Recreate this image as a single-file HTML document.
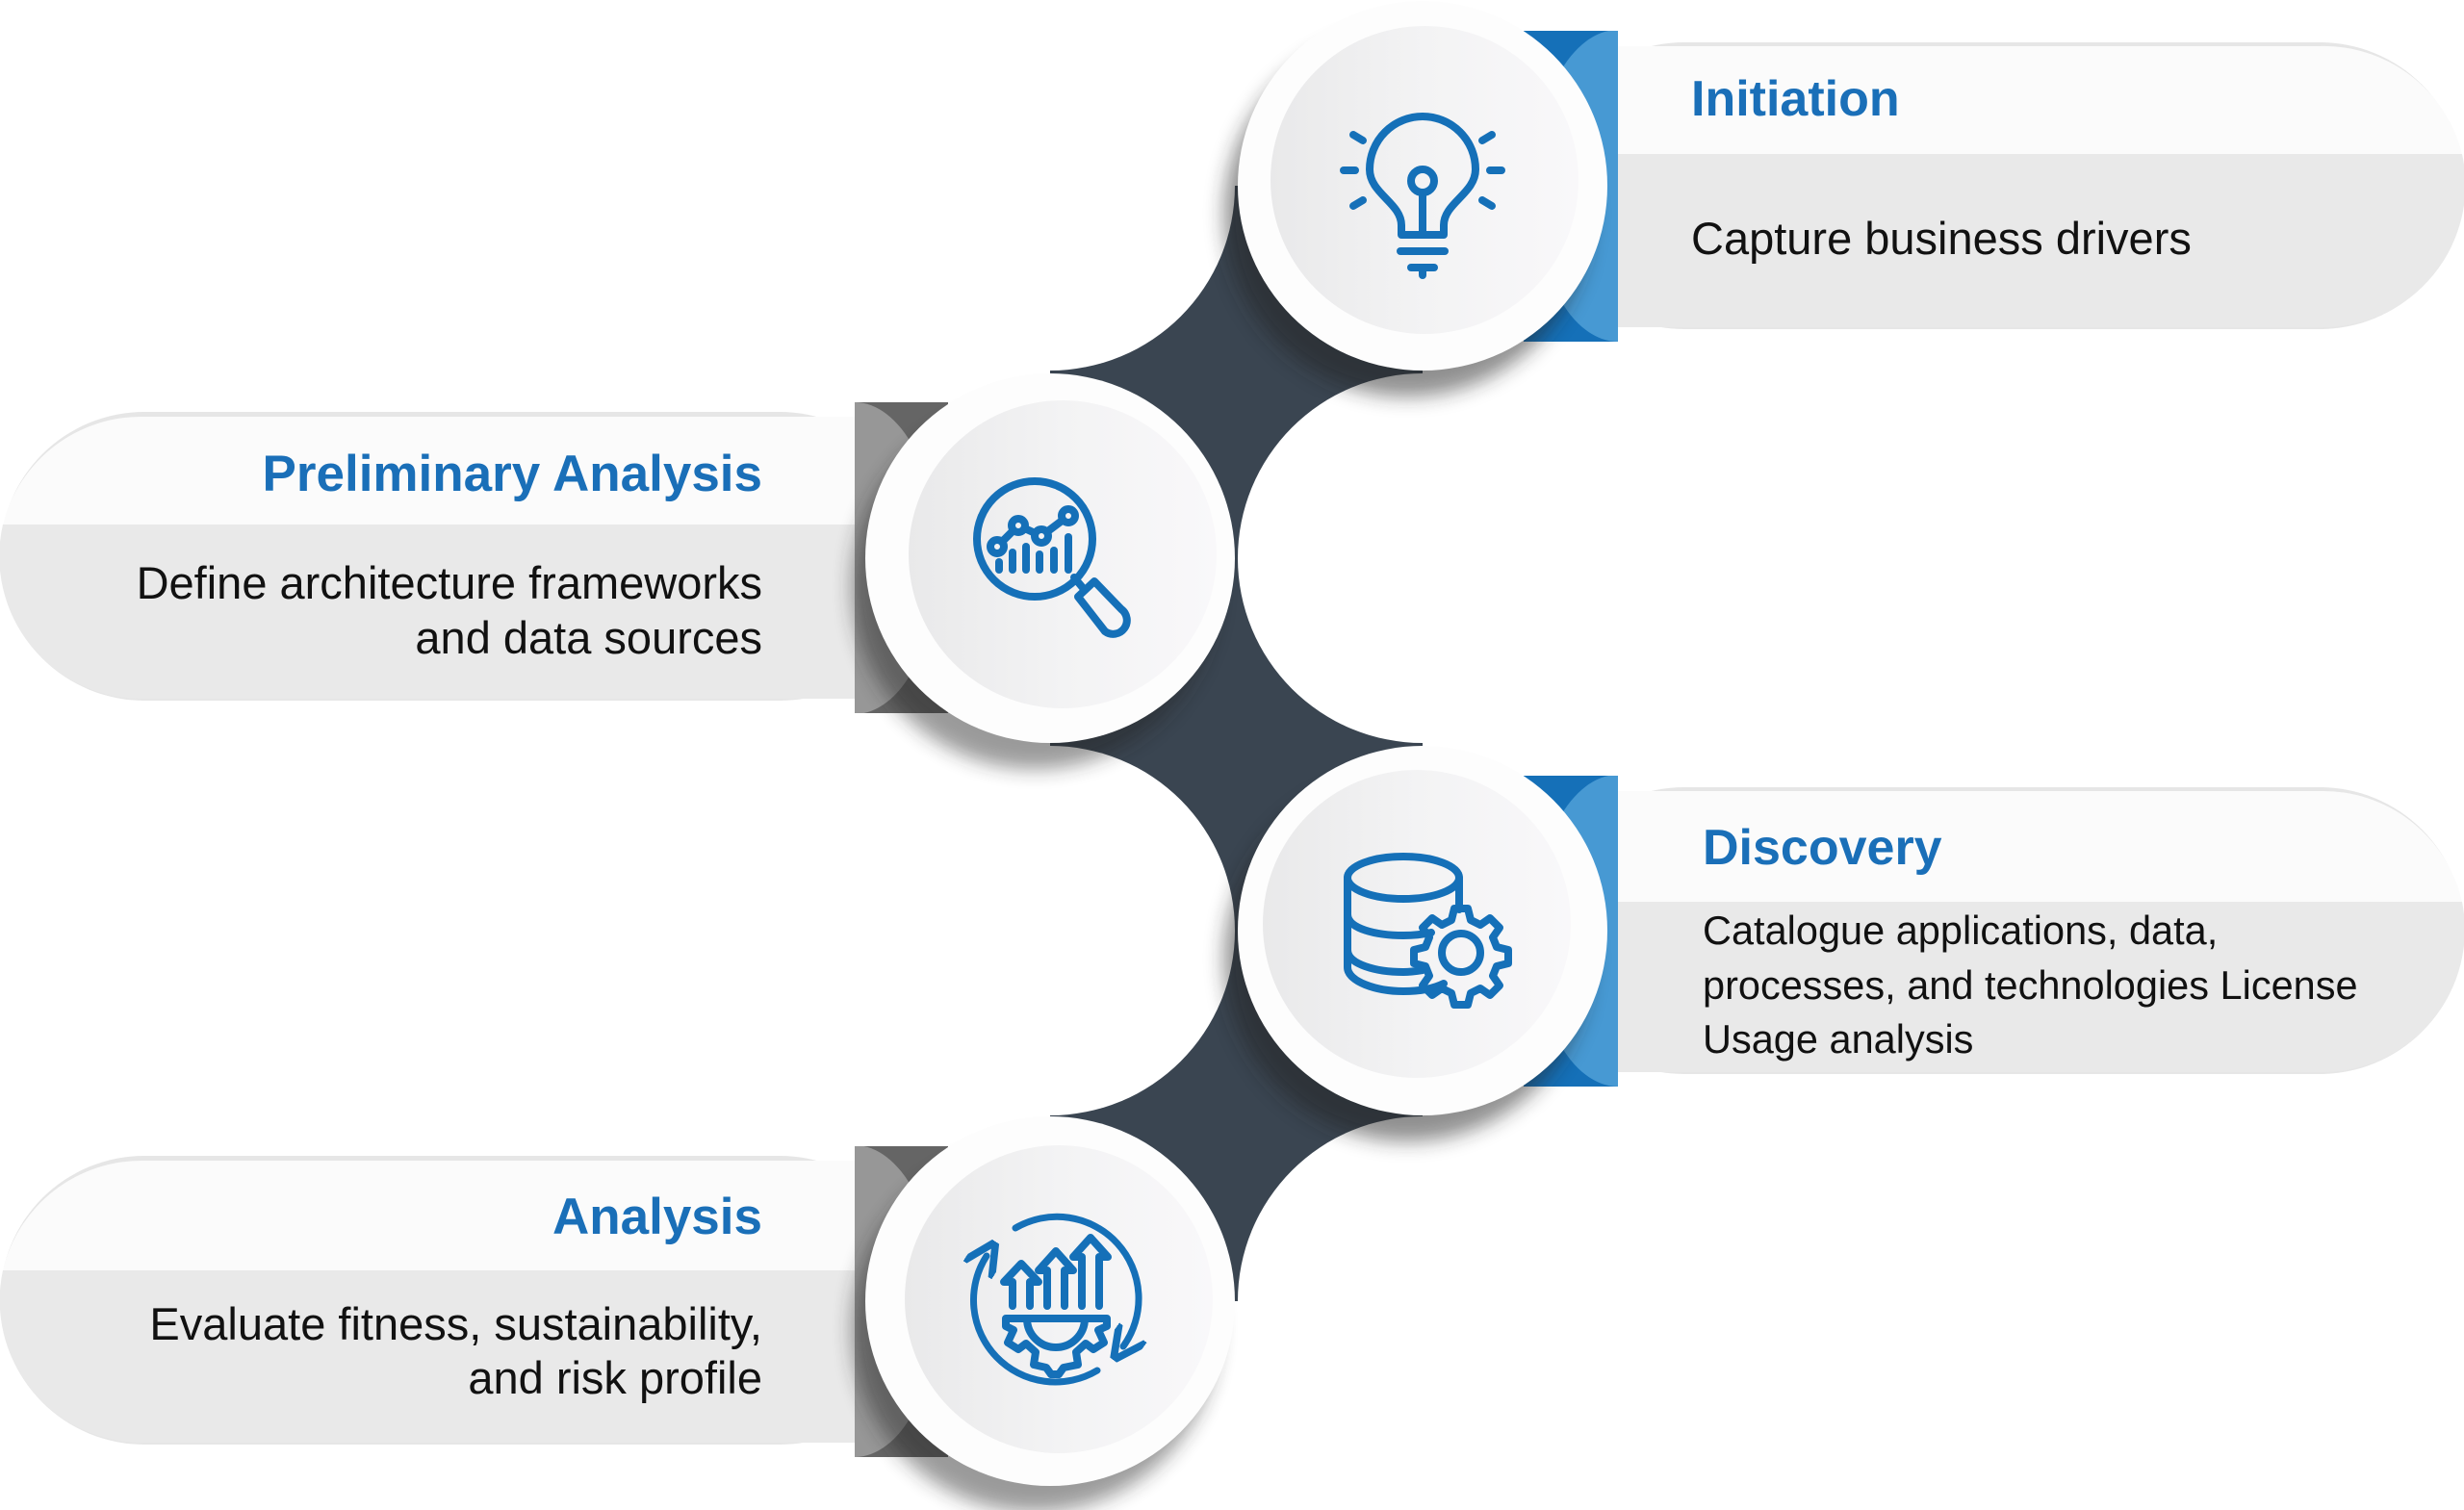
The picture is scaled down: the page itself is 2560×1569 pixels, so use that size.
<!DOCTYPE html>
<html><head><meta charset="utf-8"><style>html,body{margin:0;padding:0;background:#fff}svg{display:block}</style></head>
<body>
<svg width="2560" height="1569" viewBox="0 0 2560 1569" xmlns="http://www.w3.org/2000/svg">
<defs>
  <linearGradient id="disc" x1="0" x2="1" y1="0" y2="0">
    <stop offset="0" stop-color="#e9e9ea"/><stop offset="0.5" stop-color="#f3f3f4"/><stop offset="1" stop-color="#f9f8fa"/>
  </linearGradient>
  <filter id="sh" x="-30%" y="-30%" width="160%" height="160%"><feGaussianBlur stdDeviation="10"/></filter>
  <marker id="ah" viewBox="0 0 10 10" refX="5" refY="5" markerWidth="5" markerHeight="5" orient="auto">
    <path d="M0,0 L10,5 L0,10" fill="none" stroke="#1570b8" stroke-width="2.2" stroke-linecap="round" stroke-linejoin="round"/>
  </marker>
  <mask id="dm">
    <rect x="1091" y="193" width="387" height="1159" fill="#fff"/>
    <circle cx="1091" cy="193" r="192" fill="#000"/>
    <circle cx="1478" cy="580" r="192" fill="#000"/>
    <circle cx="1091" cy="967" r="192" fill="#000"/>
    <circle cx="1478" cy="1352" r="192" fill="#000"/>
  </mask>
  <clipPath id="cpR1"><rect x="1583" y="32" width="98" height="323"/></clipPath>
  <clipPath id="cpR2"><rect x="1583" y="806" width="98" height="323"/></clipPath>
  <clipPath id="cpL1"><rect x="888" y="418" width="97" height="323"/></clipPath>
  <clipPath id="cpL2"><rect x="888" y="1191" width="97" height="323"/></clipPath>
</defs>

<g>
  <rect x="1600" y="44" width="960" height="298" rx="150" fill="#e6e6e6"/>
  <path d="M1600,48 H2410 A148,148 0 0 1 2558,160 H1600 Z" fill="#fbfbfb"/>
  <path d="M1600,160 H2558 A148,148 0 0 1 2410,340 H1600 Z" fill="#e9e9e9"/>
</g>
<g>
  <rect x="1600" y="818" width="960" height="298" rx="150" fill="#e6e6e6"/>
  <path d="M1600,822 H2410 A148,148 0 0 1 2558,937 H1600 Z" fill="#fbfbfb"/>
  <path d="M1600,937 H2558 A148,148 0 0 1 2410,1114 H1600 Z" fill="#e9e9e9"/>
</g>
<g>
  <rect x="0" y="428" width="960" height="300" rx="150" fill="#e6e6e6"/>
  <path d="M960,433 H150 A148,148 0 0 0 3,545 H960 Z" fill="#fbfbfb"/>
  <path d="M960,545 H3 A148,148 0 0 0 150,726 H960 Z" fill="#e9e9e9"/>
</g>
<g>
  <rect x="0" y="1201" width="960" height="300" rx="150" fill="#e6e6e6"/>
  <path d="M960,1206 H150 A148,148 0 0 0 3,1320 H960 Z" fill="#fbfbfb"/>
  <path d="M960,1320 H3 A148,148 0 0 0 150,1499 H960 Z" fill="#e9e9e9"/>
</g>

<rect x="1583" y="32" width="98" height="323" fill="#1570b8"/>
<ellipse cx="1681" cy="193" rx="88" ry="162" fill="#4799d3" clip-path="url(#cpR1)"/>
<rect x="1583" y="806" width="98" height="323" fill="#1570b8"/>
<ellipse cx="1681" cy="967" rx="88" ry="162" fill="#4799d3" clip-path="url(#cpR2)"/>
<rect x="888" y="418" width="97" height="323" fill="#656565"/>
<ellipse cx="888" cy="580" rx="87" ry="162" fill="#979797" clip-path="url(#cpL1)"/>
<rect x="888" y="1191" width="97" height="323" fill="#656565"/>
<ellipse cx="888" cy="1352" rx="87" ry="162" fill="#979797" clip-path="url(#cpL2)"/>

<rect x="1091" y="193" width="387" height="1159" fill="#3a4551" mask="url(#dm)"/>

<g>
  <circle cx="1462" cy="222" r="190" fill="#222" opacity="0.5" filter="url(#sh)"/>
  <circle cx="1478" cy="193" r="192" fill="#fdfdfd"/>
  <circle cx="1480" cy="187" r="160" fill="url(#disc)"/>
</g>
<g>
  <circle cx="1075" cy="609" r="190" fill="#222" opacity="0.45" filter="url(#sh)"/>
  <circle cx="1091" cy="580" r="192" fill="#fdfdfd"/>
  <circle cx="1104" cy="576" r="160" fill="url(#disc)"/>
</g>
<g>
  <circle cx="1462" cy="996" r="190" fill="#222" opacity="0.5" filter="url(#sh)"/>
  <circle cx="1478" cy="967" r="192" fill="#fdfdfd"/>
  <circle cx="1472" cy="960" r="160" fill="url(#disc)"/>
</g>
<g>
  <circle cx="1075" cy="1381" r="190" fill="#222" opacity="0.45" filter="url(#sh)"/>
  <circle cx="1091" cy="1352" r="192" fill="#fdfdfd"/>
  <circle cx="1100" cy="1350" r="160" fill="url(#disc)"/>
</g>

<g fill="none" stroke="#1570b8" stroke-width="8" stroke-linecap="round" stroke-linejoin="round">
  <g transform="translate(0,6)">
  <path d="M1456,238 V228 C1456,205 1423,195 1423,170 A55,55 0 1 1 1533,170 C1533,195 1500,205 1500,228 V238 Z"/>
  <circle cx="1478" cy="182" r="12"/>
  <line x1="1478" y1="194" x2="1478" y2="238"/>
  <line x1="1455" y1="255" x2="1501" y2="255"/>
  <line x1="1466" y1="272" x2="1490" y2="272"/>
  <line x1="1478" y1="272" x2="1478" y2="280"/>
  <line x1="1396" y1="171" x2="1408" y2="171"/><line x1="1548" y1="171" x2="1560" y2="171"/>
  <line x1="1406" y1="134" x2="1416" y2="140"/><line x1="1550" y1="134" x2="1540" y2="140"/>
  <line x1="1406" y1="208" x2="1416" y2="202"/><line x1="1550" y1="208" x2="1540" y2="202"/>
  </g>
  <circle cx="1075" cy="560" r="60"/>
  <path d="M1116,600 L1126,612"/>
  <path d="M1120,620 L1137,604 L1165,633 A14,14 0 0 1 1148,656 Z"/>
  <polyline points="1036,568 1058,546 1082,557 1110,536"/>
  <circle cx="1036" cy="568" r="7" fill="#f3f3f4"/><circle cx="1058" cy="546" r="7" fill="#f3f3f4"/>
  <circle cx="1082" cy="557" r="7" fill="#f3f3f4"/><circle cx="1110" cy="536" r="7" fill="#f3f3f4"/>
  <line x1="1038" y1="584" x2="1038" y2="592"/><line x1="1052" y1="574" x2="1052" y2="592"/>
  <line x1="1066" y1="568" x2="1066" y2="592"/><line x1="1080" y1="576" x2="1080" y2="592"/>
  <line x1="1095" y1="572" x2="1095" y2="592"/><line x1="1110" y1="558" x2="1110" y2="592"/>
  <ellipse cx="1458" cy="912" rx="58" ry="22"/>
  <path d="M1400,912 V1005 C1400,1020 1430,1030 1458,1030 C1475,1030 1490,1027 1500,1022"/>
  <path d="M1516,912 V945"/>
  <path d="M1400,950 C1400,965 1430,972 1458,972 C1468,972 1478,971 1487,969"/>
  <path d="M1400,987 C1400,1002 1430,1010 1458,1010 C1465,1010 1472,1009 1478,1008"/>
  <path d="M1518,944 l7,0 l3,12 l10,5 l10,-7 l10,10 l-7,10 l4,10 l12,3 l0,14 l-12,3 l-4,10 l7,10 l-10,10 l-10,-7 l-10,5 l-3,12 l-14,0 l-3,-12 l-10,-5 l-10,7 l-10,-10 l7,-10 l-4,-10 l-12,-3 l0,-14 l12,-3 l4,-10 l-7,-10 l10,-10 l10,7 l10,-5 l3,-12 z"/>
  <circle cx="1518" cy="990" r="20"/>
  <g stroke-width="7">
  <path d="M1055,1276 A85,85 0 0 1 1167,1399" marker-end="url(#ah)"/>
  <path d="M1140,1424 A85,85 0 0 1 1025,1305" marker-end="url(#ah)"/>
  </g>
  <path d="M1052,1357 V1332 H1043 L1061,1313 L1079,1332 H1070 V1357"/>
  <path d="M1088,1357 V1320 H1079 L1097,1300 L1115,1320 H1106 V1357"/>
  <path d="M1124,1357 V1306 H1115 L1133,1286 L1151,1306 H1142 V1357"/>
  <path d="M1045,1370 H1150 V1378 L1141,1382 L1147,1395 L1136,1402 L1128,1396 L1118,1405 L1120,1418 L1105,1421 L1100,1428 H1092 L1087,1421 L1074,1418 L1076,1405 L1066,1396 L1058,1402 L1047,1395 L1053,1382 L1045,1378 Z"/>
  <path d="M1067,1370 A30,30 0 0 0 1127,1370"/>
</g>

<g font-family="Liberation Sans, Arial, sans-serif">
  <text x="1757" y="120" font-size="52" font-weight="bold" fill="#1a6fb8">Initiation</text>
  <text x="1757" y="264" font-size="47" fill="#111">Capture business drivers</text>
  <text x="792" y="510" font-size="53" font-weight="bold" fill="#1a6fb8" text-anchor="end">Preliminary Analysis</text>
  <text x="792" y="622" font-size="47" fill="#111" text-anchor="end">Define architecture frameworks</text>
  <text x="792" y="679" font-size="47" fill="#111" text-anchor="end">and data sources</text>
  <text x="1769" y="898" font-size="52" font-weight="bold" fill="#1a6fb8">Discovery</text>
  <text x="1769" y="981" font-size="41.5" fill="#111">Catalogue applications, data,</text>
  <text x="1769" y="1038" font-size="41.5" fill="#111">processes, and technologies License</text>
  <text x="1769" y="1094" font-size="41.5" fill="#111">Usage analysis</text>
  <text x="792" y="1282" font-size="53" font-weight="bold" fill="#1a6fb8" text-anchor="end">Analysis</text>
  <text x="792" y="1392" font-size="47" fill="#111" text-anchor="end">Evaluate fitness, sustainability,</text>
  <text x="792" y="1448" font-size="47" fill="#111" text-anchor="end">and risk profile</text>
</g>
</svg>
</body></html>
